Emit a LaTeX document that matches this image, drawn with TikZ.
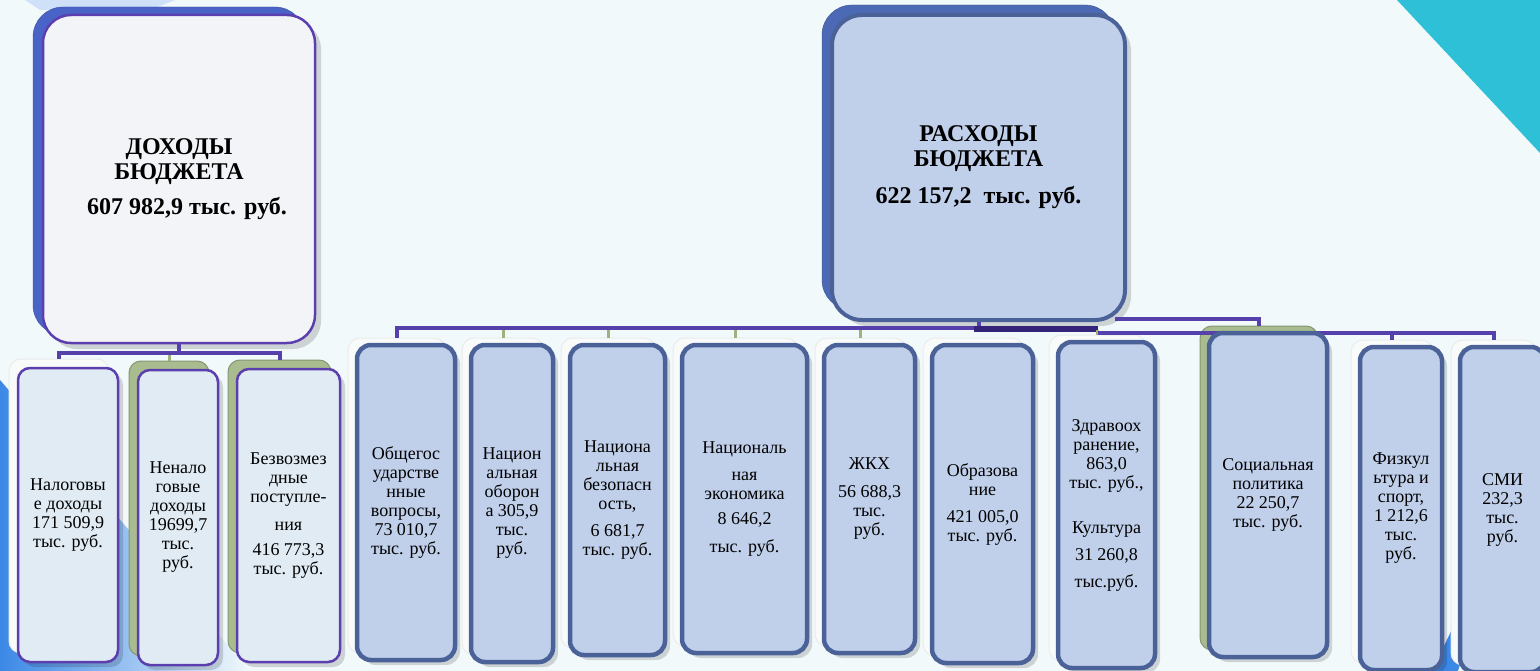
\documentclass[tikz,border=0pt]{standalone}
\usepackage{fontspec}
\setmainfont{Liberation Serif}
\newfontfamily\budgetfont{Liberation Serif}
\usetikzlibrary{shadows}

\definecolor{bgpale}{HTML}{F1F9FB}
\definecolor{sideblue}{HTML}{3C88E6}
\definecolor{cornerteal}{HTML}{2EC0D6}
\definecolor{linepurple}{HTML}{5640AC}
\definecolor{linedark}{HTML}{33247A}
\definecolor{tickgreen}{HTML}{9DB27C}
\definecolor{incfill}{HTML}{E0EBF3}
\definecolor{incedge}{HTML}{5C3FAE}
\definecolor{expfill}{HTML}{C0CFEA}
\definecolor{expedge}{HTML}{4A6298}
\definecolor{headgray}{HTML}{F3F4F8}
\definecolor{headblue}{HTML}{4A63C6}
\definecolor{headsteel}{HTML}{4C69B5}
\definecolor{backgreen}{HTML}{A9BC8F}
\definecolor{backwhite}{HTML}{F9FBFB}

\begin{document}
\begin{tikzpicture}[x=1pt,y=-1pt,
  every node/.style={font=\budgetfont\fontsize{18}{19}\selectfont,align=center,inner sep=2pt},
  sz/.style 2 args={minimum width=#1pt,minimum height=#2pt},
  incbox/.style={draw=incedge,fill=incfill,line width=2.5pt,rounded corners=12pt,
    drop shadow={shadow xshift=5pt,shadow yshift=-5pt,opacity=.15,fill=black}},
  expbox/.style={draw=expedge,fill=expfill,line width=4.5pt,rounded corners=14pt,
    drop shadow={shadow xshift=5pt,shadow yshift=-5pt,opacity=.15,fill=black}},
  greenback/.style={draw=backgreen!80!black,fill=backgreen,line width=1pt,rounded corners=12pt},
  whiteback/.style={draw=black!8,fill=backwhite,line width=1pt,rounded corners=12pt},
  headtxt/.style={font=\budgetfont\fontsize{24}{25}\selectfont\bfseries},
  busline/.style={draw=linepurple,line width=4pt},
  tickline/.style={draw=tickgreen,line width=3pt}]

  \useasboundingbox (0,0) rectangle (1540,671);

  % background
  \fill[bgpale] (0,0) rectangle (1540,671);
  \shade[left color=sideblue,right color=bgpale] (0,380) -- (250,671) -- (0,671) -- cycle;
  \fill[sideblue!25] (25,0) -- (175,0) -- (150,10) -- (40,10) -- cycle;
  \fill[cornerteal] (1397,0) -- (1540,0) -- (1540,153) -- cycle;
  \fill[sideblue] (1432,671) -- (1466,600) -- (1480,600) -- (1458,671) -- cycle;

  % headers
  \node[draw=headblue!80!black,fill=headblue,rounded corners=30pt,sz={272}{328}] (dohodB) at (169,171) {};
  \node[headtxt,draw=incedge,fill=headgray,line width=2.5pt,rounded corners=28pt,sz={272}{328},
    drop shadow={shadow xshift=6pt,shadow yshift=-6pt,opacity=.15,fill=black}] (dohod) at (179,179)
    {ДОХОДЫ\\БЮДЖЕТА\\[10pt]\hspace*{16pt}607 982,9 тыс. руб.};
  \node[draw=headsteel!80!black,fill=headsteel,rounded corners=30pt,sz={293}{305}] (rashB) at (968.5,157.5) {};
  \node[headtxt,draw=expedge,fill=expfill,line width=4pt,rounded corners=30pt,sz={293}{305},
    drop shadow={shadow xshift=6pt,shadow yshift=-6pt,opacity=.15,fill=black}] (rash) at (978.5,167.5)
    {РАСХОДЫ\\БЮДЖЕТА\\[12pt]622 157,2~~тыс. руб.};

  % back boxes
  \node[whiteback,sz={100}{294}] (nalogB) at (59,506) {};
  \node[greenback,sz={80}{295}] (nenalB) at (169,508.5) {};
  \node[greenback,sz={103}{293}] (bezvB) at (279.5,506.5) {};
  \node[whiteback,sz={98}{315}] (obshB) at (397,495.5) {};
  \node[whiteback,sz={82}{317}] (oborB) at (503,496.5) {};
  \node[whiteback,sz={95}{310}] (bezopB) at (608.5,493) {};
  \node[whiteback,sz={125}{308}] (ekonB) at (735.5,492) {};
  \node[whiteback,sz={91}{308}] (zhkhB) at (860.5,492) {};
  \node[whiteback,sz={101}{318}] (obrazB) at (973.5,497) {};
  \node[whiteback,sz={97}{326}] (zdravB) at (1097.5,498) {};
  \node[greenback,sz={118}{324}] (socB) at (1259,488) {};
  \node[whiteback,sz={82}{323}] (fizkB) at (1392,501.5) {};
  \node[whiteback,sz={85}{325}] (smiB) at (1493.5,502.5) {};

  % connectors
  \draw[busline] (dohod.south) -- (dohod.south |- 0,353);
  \draw[busline] (nalogB.north) -- (nalogB.north |- 0,353) -| (bezvB.north);
  \draw[tickline] (nenalB.north) -- (nenalB.north |- 0,355);
  \draw[busline] (rash.south) -- (rash.south |- 0,328);
  \draw[busline] (obshB.north) -- (obshB.north |- 0,328) -- (zdravB.north |- 0,328);
  \draw[draw=linedark,line width=6pt] (obrazB.north |- 0,329) -- (zdravB.north |- 0,329);
  \foreach \b in {oborB,bezopB,ekonB,zhkhB,zdravB}
    \draw[tickline] (\b.north) -- (\b.north |- 0,330);
  \draw[busline] ([xshift=-12pt,yshift=3pt]rash.south east) -| (socB.north);
  \draw[busline] (zdravB.north |- 0,333) -| (smiB.north);
  \draw[busline] (fizkB.north) -- (fizkB.north |- 0,333);

  % income boxes
  \node[incbox,sz={100}{294}] (nalog) at (68,515)
    {Налоговы\\е доходы\\171 509,9\\тыс. руб.};
  \node[incbox,sz={80}{295}] (nenal) at (178,517.5)
    {Ненало\\говые\\доходы\\19699,7\\тыс.\\руб.};
  \node[incbox,sz={103}{293}] (bezv) at (288.5,515.5)
    {Безвозмез\\дные\\поступле-\\[9pt]ния\\[6pt]416 773,3\\тыс. руб.};

  % expense boxes
  \node[expbox,sz={98}{315}] (obsh) at (406,502.5)
    {Общегос\\ударстве\\нные\\вопросы,\\73 010,7\\тыс. руб.};
  \node[expbox,sz={82}{317}] (obor) at (512,503.5)
    {Национ\\альная\\оборон\\а 305,9\\тыс.\\руб.};
  \node[expbox,sz={95}{310}] (bezop) at (617.5,500)
    {Национа\\льная\\безопасн\\ость,\\[8pt]6 681,7\\тыс. руб.};
  \node[expbox,sz={125}{308}] (ekon) at (744.5,499)
    {Националь\\[8pt]ная\\экономика\\[6pt]8 646,2\\[9pt]тыс. руб.};
  \node[expbox,sz={91}{308}] (zhkh) at (869.5,499)
    {ЖКХ\\[9pt]56 688,3\\тыс.\\руб.};
  \node[expbox,sz={101}{318}] (obraz) at (982.5,504)
    {Образова\\ние\\[8pt]421 005,0\\тыс. руб.};
  \node[expbox,sz={97}{326}] (zdrav) at (1106.5,505)
    {Здравоох\\ранение,\\863,0\\тыс. руб.,\\[26pt]Культура\\[8pt]31 260,8\\[8pt]тыс.руб.};
  \node[expbox,sz={118}{324}] (soc) at (1268,495)
    {Социальная\\политика\\22 250,7\\тыс. руб.};
  \node[expbox,sz={82}{323}] (fizk) at (1401,508.5)
    {Физкул\\ьтура и\\спорт,\\1 212,6\\тыс.\\руб.};
  \node[expbox,sz={85}{325}] (smi) at (1502.5,509.5)
    {СМИ\\232,3\\тыс.\\руб.};
\end{tikzpicture}
\end{document}
